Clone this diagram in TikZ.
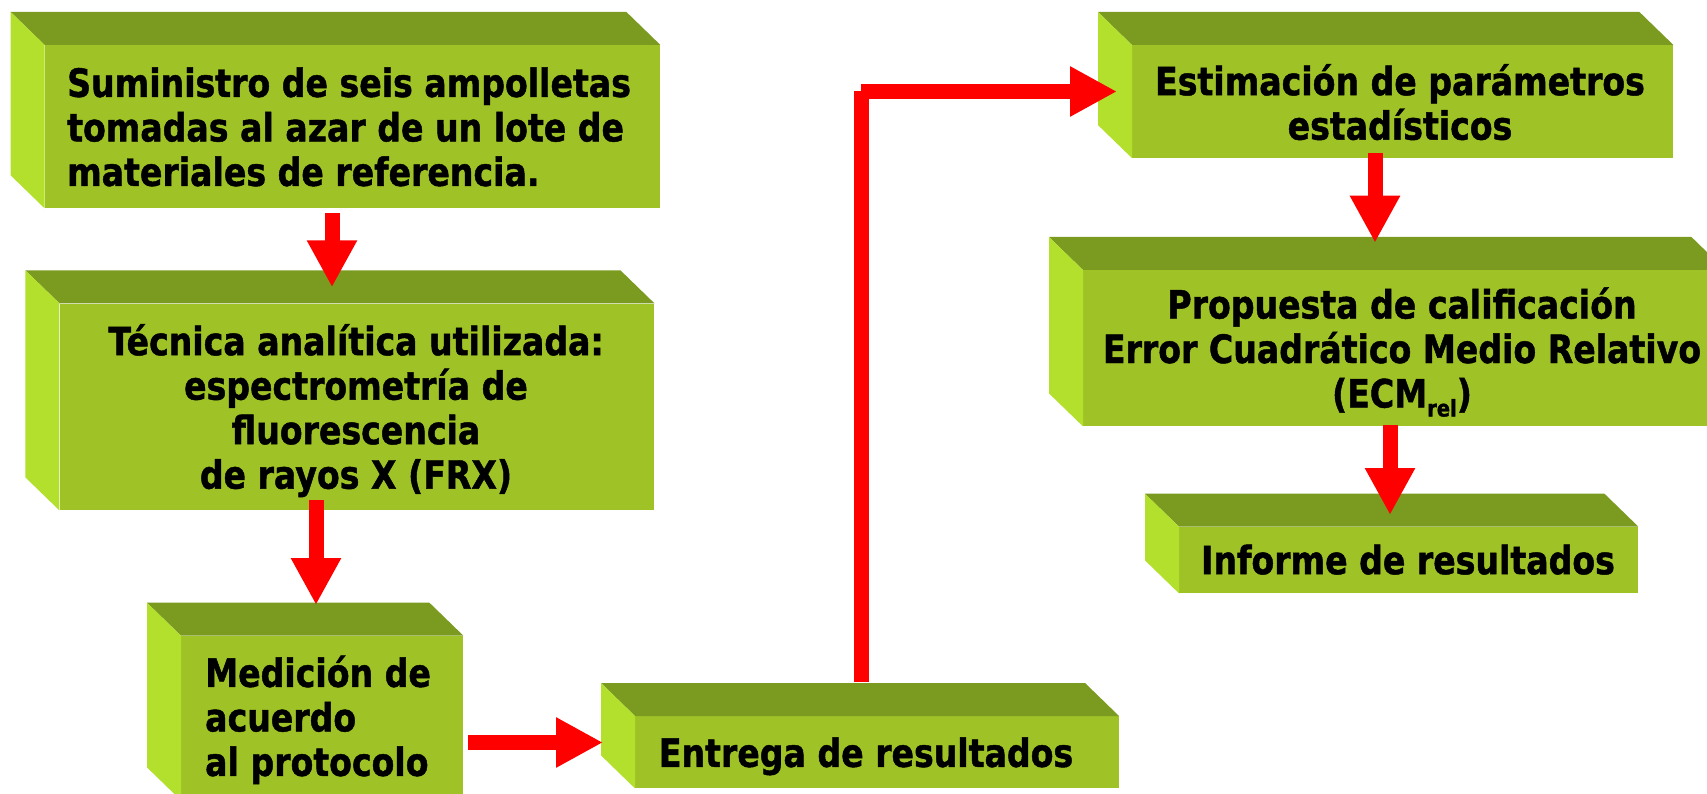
\documentclass[tikz,border=0pt]{standalone}
\usepackage{fontspec}
\newfontfamily\boxfont[FakeStretch=0.85,FakeBold=1.2]{DejaVu Sans}
\usetikzlibrary{arrows.meta,calc}
\definecolor{topc}{HTML}{7A9A20}
\definecolor{frontc}{HTML}{9FC326}
\definecolor{leftc}{HTML}{B3E02D}
\definecolor{arrc}{HTML}{FF0000}
\tikzset{
  face/.style={fill=frontc, rectangle, inner sep=0pt, anchor=north west},
  topface/.style={fill=topc},
  leftface/.style={fill=leftc},
  lbl/.style={inner sep=0pt, font=\boxfont\bfseries\fontsize{39}{44.5}\selectfont, text=black},
  shaft/.style={draw=arrc, line width=15pt},
  arr/.style={shaft, -{Triangle[width=47pt,length=47pt]}},
}
\newcommand\cubebox[5]{%
  \node[face, minimum width={#4-#2}, minimum height={#5-#3}] (#1) at (#2,#3) {};
  \fill[topface] (#1.north west) -- ++(-34,-33) -- ($(#1.north east)+(-34,-33)$) -- (#1.north east) -- cycle;
  \fill[leftface] (#1.north west) -- ++(-34,-33) -- ($(#1.south west)+(-34,-33)$) -- (#1.south west) -- cycle;
}
\begin{document}
\begin{tikzpicture}[x=1pt,y=-1pt]
\fill[white] (0,0) rectangle (1707,794);
\useasboundingbox (0,0) rectangle (1707,794);
\clip (0,0) rectangle (1707,794);
% boxes
\cubebox{b1}{44.7}{45}{660}{208}
\cubebox{b2}{59.4}{303.3}{654}{510}
\cubebox{b3}{181}{635.7}{463}{800}
\cubebox{b4}{635}{716}{1118.6}{788}
\cubebox{b5}{1132}{45}{1673}{157.7}
\cubebox{b6}{1083}{270}{1725}{426}
\cubebox{b7}{1179}{526.7}{1638}{593}
% texts
\node[lbl, anchor=north west, align=left] (t1) at (67,56.7)
  {\rule{0pt}{40pt}Suministro de seis ampolletas\\tomadas al azar de un lote de\\materiales de referencia.};
\node[lbl, anchor=north, align=center] (t2) at (356,315)
  {\rule{0pt}{40pt}Técnica analítica utilizada:\\espectrometría de\\fluorescencia\\de rayos X (FRX)};
\node[lbl, anchor=north west, align=left] (t3) at (205,646.7)
  {\rule{0pt}{40pt}Medición de\\acuerdo\\al protocolo};
\node[lbl, anchor=north west, align=left] (t4) at (658.7,726.7)
  {\rule{0pt}{40pt}Entrega de resultados};
\node[lbl, anchor=north, align=center] (t5) at (1400,55)
  {\rule{0pt}{40pt}Estimación de parámetros\\estadísticos};
\node[lbl, anchor=north, align=center] (t6) at (1402,278.3)
  {\rule{0pt}{40pt}Propuesta de calificación\\Error Cuadrático Medio Relativo\\(ECM\raisebox{-9pt}{\fontsize{23}{23}\selectfont rel})};
\node[lbl, anchor=north, align=center] (t7) at (1408,534)
  {\rule{0pt}{40pt}Informe de resultados};
% connectors
\coordinate (c1) at (332,0);
\coordinate (c2) at (316,0);
\coordinate (c3) at (0,742.5);
\coordinate (c4) at (861,0);
\coordinate (k) at (861,91.5);
\coordinate (c5) at (1375,0);
\coordinate (c6) at (1390,0);
\draw[arr] ($(b1.south -| c1)+(0,4.7)$) -- ($(b2.north -| c1)+(0,-16)$);
\draw[arr] ($(b2.south -| c2)+(0,-10)$) -- ($(b3.north -| c2)+(0,-30.7)$);
\draw[arr] ($(b3.east |- c3)+(4.7,0)$) -- ($(b4.west |- c3)+(-32,0)$);
\draw[shaft] ($(b4.north -| c4)+(0,-34)$) -- (k);
\draw[arr] (k) -- ($(b5.west |- k)+(-15,0)$);
\draw[arr] ($(b5.south -| c5)+(0,-5)$) -- ($(b6.north -| c5)+(0,-27.3)$);
\draw[arr] ($(b6.south -| c6)+(0,-1)$) -- ($(b7.north -| c6)+(0,-11.7)$);
\end{tikzpicture}
\end{document}
